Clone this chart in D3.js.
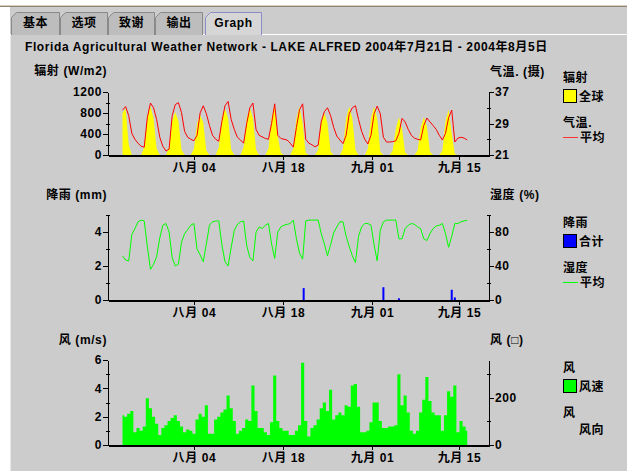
<!DOCTYPE html>
<meta charset="utf-8">
<style>
body { margin: 0; background: #fff; }
svg { display: block; }
text {
  font-family: 'Liberation Sans', 'Noto Sans CJK SC', sans-serif;
  font-weight: bold;
  font-size: 12px;
  letter-spacing: 0.6px;
  fill: #000;
}
.axis path, .axis line { stroke: #000; shape-rendering: crispEdges; }
.axis--x path { stroke-width: 2px; }
</style>
<svg width="627" height="471"></svg>
<script src="https://cdn.jsdelivr.net/npm/d3@7"></script>
<script>

// ---- data (hourly readings sampled every 3 hours, starting 09:00 on day 1) ----
var startHour = 9, stepHours = 3;

var tabNames = ["基本", "选项", "致谢", "输出", "Graph"];
var tickHours = [78, 164, 250, 334];
var tickLabels = ["八月 04", "八月 18", "九月 01", "九月 15"];

var radiation = [800, 880, 200, 0, 0, 0, 0,
  150, 750, 930, 700, 120, 0, 0, 0,
  150, 650, 820, 650, 100, 0, 0, 0,
  120, 600, 760, 620, 80, 0, 0, 0,
  150, 700, 880, 700, 100, 0, 0, 0,
  150, 700, 900, 700, 100, 0, 0, 0,
  120, 700, 950, 350, 40, 0, 0, 0,
  120, 700, 920, 600, 40, 0, 0, 0,
  100, 620, 800, 600, 60, 0, 0, 0,
  120, 700, 920, 700, 100, 0, 0, 0,
  120, 700, 920, 700, 60, 0, 0, 0,
  80, 500, 720, 500, 50, 0, 0, 0,
  80, 520, 720, 550, 60, 0, 0, 0,
  80, 650, 860, 400, 20, 0, 0, 0, 0];

var temperature = [32.4, 33.3, 31.0, 26.5, 25.0, 24.0, 23.2, 23.0,
  30.5, 34.2, 33.0, 30.0, 25.5, 23.2, 22.0, 22.5,
  31.0, 33.8, 34.3, 31.8, 27.0, 25.5, 25.0, 24.6,
  26.0, 31.7, 33.5, 31.5, 28.5, 26.0, 25.0, 24.5,
  29.5, 33.5, 34.6, 30.0, 27.5, 25.5, 24.8, 24.0,
  29.0, 33.0, 34.2, 27.5, 26.0, 25.6, 25.2, 25.0,
  29.0, 34.0, 26.0, 25.2, 25.0, 24.8, 24.0, 23.0,
  28.0, 32.5, 34.0, 25.0, 24.0, 23.6, 23.1, 23.5,
  29.5, 32.0, 33.0, 31.0, 28.0, 25.8, 24.8, 23.9,
  26.0, 31.5, 33.0, 33.5, 30.0, 27.0, 25.0, 23.8,
  26.0, 31.5, 33.4, 31.5, 25.5, 24.3, 24.3, 24.4,
  24.6, 26.5, 30.3, 29.4, 27.5, 26.0, 25.3, 25.0,
  24.8, 28.5, 30.4, 29.4, 28.5, 27.5, 26.0, 24.8,
  26.5, 30.5, 32.4, 24.3, 25.3, 25.5, 25.3, 24.8];

var humidity = [52, 47, 46, 77, 84, 92, 94, 93,
  63, 36, 42, 51, 73, 88, 90, 80,
  50, 40, 42, 68, 78, 83, 88, 90,
  60, 53, 45, 66, 88, 92, 93, 93,
  65, 45, 40, 62, 82, 89, 92, 93,
  64, 50, 46, 80, 86, 84, 88, 90,
  66, 49, 80, 86, 88, 89, 90, 94,
  72, 55, 48, 93, 94, 94, 94, 94,
  78, 66, 52, 65, 79, 86, 92, 92,
  75, 63, 52, 44, 75, 86, 90, 90,
  88, 65, 46, 82, 92, 94, 94, 94,
  94, 72, 72, 84, 88, 90, 89, 86,
  84, 72, 70, 78, 84, 87, 88, 90,
  78, 62, 75, 90, 90, 92, 93, 94];

var windSpeed = [2.1, 2.0, 2.2, 2.4, 0.9, 1.2, 1.0, 1.3,
  3.3, 2.6, 2.0, 1.5, 0.7, 1.2, 1.4, 1.7,
  1.9, 2.1, 1.7, 1.3, 0.9, 1.1, 1.0, 0.8,
  1.8, 2.2, 2.0, 2.8, 0.8, 0.8, 1.8, 2.0,
  2.3, 2.5, 3.5, 2.6, 1.7, 0.8, 1.0, 1.2,
  1.8, 1.7, 4.2, 2.4, 1.2, 1.2, 0.9, 0.7,
  1.6, 4.9, 1.7, 1.2, 1.0, 1.0, 0.7, 0.7,
  1.0, 1.4, 5.8, 1.7, 0.6, 1.2, 1.4, 1.8,
  2.6, 3.0, 2.4, 3.9, 1.8, 2.1, 2.3, 2.1,
  2.8, 2.7, 4.2, 4.3, 2.7, 0.9, 0.9, 1.0,
  1.6, 3.0, 3.0, 1.7, 1.2, 1.2, 1.3, 1.3,
  1.4, 5.0, 2.8, 3.5, 2.3, 1.0, 0.8, 1.0,
  2.3, 3.2, 4.8, 3.1, 2.3, 2.1, 2.1, 1.0,
  2.1, 3.8, 3.4, 4.2, 0.9, 1.7, 1.3, 1.0];

var rainHours = [184, 261, 276, 327, 330];
var rainTotals = [0.7, 0.75, 0.1, 0.6, 0.15];

// ---------------------------------------------------------------

var svg = d3.select("svg");

function hourOf(i) { return startHour + i * stepHours; }

// window chrome: strip, tabs, panel
svg.append("rect").attr("x", 10).attr("y", 7).attr("width", 617).attr("height", 464).attr("fill", "#cccccc");
svg.append("rect").attr("x", 0).attr("y", 5).attr("width", 627).attr("height", 1).attr("fill", "#d8d0b8");
svg.append("rect").attr("x", 0).attr("y", 6).attr("width", 627).attr("height", 1).attr("fill", "#8c8470");
svg.append("line").attr("x1", 10.5).attr("x2", 10.5).attr("y1", 34).attr("y2", 471).attr("stroke", "#e8e8e8");
svg.append("line").attr("x1", 10).attr("x2", 627).attr("y1", 34.5).attr("y2", 34.5).attr("stroke", "#ffffff");

var tabWidths = [49, 48, 47, 48, 57];
var tabX = 11;
tabNames.forEach(function(name, i) {
  var x0 = tabX, x1 = tabX + tabWidths[i], sel = i == tabNames.length - 1;
  if (sel) { x0 += 2; x1 += 2; }
  svg.append("path")
    .attr("d", "M" + (x0 + 0.5) + ",35 V17.5 L" + (x0 + 5.5) + ",12.5 H" + (x1 - 0.5) + " V35")
    .attr("fill", sel ? "#d6d6d6" : "#bdbdbd")
    .attr("stroke", sel ? "#8c8cc8" : "#8a8a8a");
  svg.append("text")
    .attr("x", (x0 + x1) / 2).attr("y", 27)
    .attr("text-anchor", "middle")
    .text(name);
  tabX += tabWidths[i];
});

svg.append("text").attr("x", 25).attr("y", 51)
  .text("Florida Agricultural Weather Network - LAKE ALFRED 2004年7月21日 - 2004年8月5日");

var x = d3.scaleLinear().domain([-5, 363]).range([108, 489]);

function drawAxes(yLeft, yRight, leftMajor, leftMinor, rightMajor, rightMinor, bottom) {
  var g = svg.append("g");
  g.append("g").attr("class", "axis")
    .attr("transform", "translate(108,0)")
    .call(d3.axisLeft(yLeft).tickValues(leftMinor).tickSize(4).tickSizeOuter(0).tickFormat(""))
    .selectAll(".tick line").attr("transform", "translate(2,0)");
  g.append("g").attr("class", "axis")
    .attr("transform", "translate(108,0)")
    .call(d3.axisLeft(yLeft).tickValues(leftMajor).tickSize(5).tickPadding(1).tickSizeOuter(0)
      .tickFormat(d3.format("d")));
  g.append("g").attr("class", "axis")
    .attr("transform", "translate(489,0)")
    .call(d3.axisRight(yRight).tickValues(rightMinor).tickSize(4).tickSizeOuter(0).tickFormat(""))
    .selectAll(".tick line").attr("transform", "translate(-2,0)");
  g.append("g").attr("class", "axis")
    .attr("transform", "translate(489,0)")
    .call(d3.axisRight(yRight).tickValues(rightMajor).tickSize(5).tickPadding(1).tickSizeOuter(0)
      .tickFormat(d3.format("d")));
  g.append("g").attr("class", "axis axis--x")
    .attr("transform", "translate(0," + bottom + ")")
    .call(d3.axisBottom(x).tickValues(tickHours).tickSize(5).tickPadding(3).tickSizeOuter(0)
      .tickFormat(function(d, i) { return tickLabels[i]; }));
  g.selectAll(".axis text").attr("font-size", null).attr("font-family", null).style("fill", "#000");
}

function legend(y0, title1, label1, color1, title2, label2, color2, isLine2) {
  var g = svg.append("g");
  g.append("text").attr("x", 563).attr("y", y0 + 4.5).text(title1);
  g.append("rect").attr("x", 563.5).attr("y", y0 + 12.5).attr("width", 13).attr("height", 13)
    .attr("fill", color1).attr("stroke", "#000");
  g.append("text").attr("x", 579).attr("y", y0 + 23.5).text(label1);
  g.append("text").attr("x", 563).attr("y", y0 + 49.5).text(title2);
  if (isLine2) {
    g.append("line").attr("x1", 563).attr("x2", 578).attr("y1", y0 + 60.5).attr("y2", y0 + 60.5)
      .attr("stroke", color2);
    g.append("text").attr("x", 580).attr("y", y0 + 64.5).text(label2);
  } else {
    g.append("text").attr("x", 579).attr("y", y0 + 66.5).text(label2);
  }
}

// ---- panel 1: radiation & air temperature ----
var yRad = d3.scaleLinear().domain([0, 1200]).range([155, 92]);
var yTemp = d3.scaleLinear().domain([21, 37]).range([155, 92]);

svg.append("path").datum(radiation)
  .attr("fill", "#ffff00")
  .attr("d", d3.area().x(function(d, i) { return x(hourOf(i)); })
    .y0(yRad(0)).y1(function(d) { return yRad(d); }));
svg.append("path").datum(temperature)
  .attr("fill", "none").attr("stroke", "#ff0000").attr("stroke-width", 1)
  .attr("d", d3.line().x(function(d, i) { return x(hourOf(i)); }).y(function(d) { return yTemp(d); }));

drawAxes(yRad, yTemp, [0, 400, 800, 1200], [200, 600, 1000], [21, 29, 37], [25, 33], 155);
svg.append("text").attr("x", 107).attr("y", 74.5).attr("text-anchor", "end").text("辐射 (W/m2)");
svg.append("text").attr("x", 490).attr("y", 76).text("气温. (摄)");
legend(77, "辐射", "全球", "#ffff00", "气温.", "平均", "#ff3333", true);

// ---- panel 2: rainfall & humidity ----
var yRain = d3.scaleLinear().domain([0, 5]).range([300, 215]);
var yHum = d3.scaleLinear().domain([0, 100]).range([300, 215]);

svg.append("path").datum(humidity)
  .attr("fill", "none").attr("stroke", "#00ff00").attr("stroke-width", 1)
  .attr("d", d3.line().x(function(d, i) { return x(hourOf(i)); }).y(function(d) { return yHum(d); }));
svg.selectAll(".rain").data(rainTotals).enter().append("rect")
  .attr("class", "rain")
  .attr("x", function(d, i) { return x(rainHours[i]) - 1; })
  .attr("y", function(d) { return yRain(d); })
  .attr("width", 2)
  .attr("height", function(d) { return yRain(0) - yRain(d); })
  .attr("fill", "#0000ff");

drawAxes(yRain, yHum, [0, 2, 4], [1, 3, 5], [0, 40, 80], [20, 60, 100], 300);
svg.append("text").attr("x", 107).attr("y", 199).attr("text-anchor", "end").text("降雨 (mm)");
svg.append("text").attr("x", 490).attr("y", 199).text("湿度 (%)");
legend(222, "降雨", "合计", "#0000ff", "湿度", "平均", "#00ff00", true);

// ---- panel 3: wind ----
var yWind = d3.scaleLinear().domain([0, 6]).range([445, 360]);
var yDir = d3.scaleLinear().domain([0, 360]).range([445, 360]);

svg.append("path").datum(windSpeed)
  .attr("fill", "#00ff00")
  .attr("d", d3.area().curve(d3.curveStep).x(function(d, i) { return x(hourOf(i)); })
    .y0(yWind(0)).y1(function(d) { return yWind(d); }));

drawAxes(yWind, yDir, [0, 2, 4, 6], [1, 3, 5], [0, 200], [100, 300], 445);
svg.append("text").attr("x", 107).attr("y", 344).attr("text-anchor", "end").text("风 (m/s)");
svg.append("text").attr("x", 490).attr("y", 344).text("风 (□)");
legend(367, "风", "风速", "#00ff00", "风", "风向", "#000", false);

</script>
